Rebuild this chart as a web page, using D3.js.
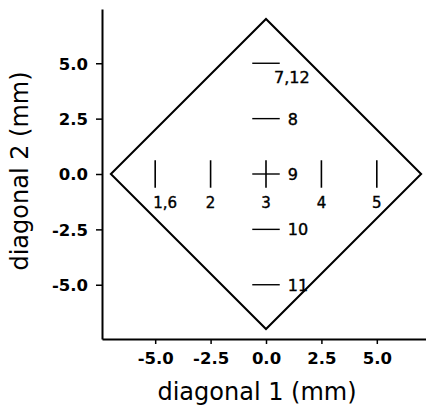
<!DOCTYPE html>
<html>
<head>
<meta charset="utf-8">
<script src="https://cdn.jsdelivr.net/npm/d3@7"></script>
<style>
  html, body { margin: 0; padding: 0; background: #fff; }
  svg { display: block; }
  text { font-family: "DejaVu Sans", Verdana, sans-serif; fill: #000; }
</style>
</head>
<body>
<svg id="chart" width="426" height="406"></svg>
<script>
// Diamond outline (vertices in mm: diagonal 1, diagonal 2)
const diamond = [[-7, 0], [0, 7], [7, 0], [0, -7]];

// Measurement sites along diagonal 1 (vertical marks at diagonal 2 = 0)
const sitesD1 = [-5, -2.5, 0, 2.5, 5];
const sitesD1Labels = ["1,6", "2", "3", "4", "5"];

// Measurement sites along diagonal 2 (horizontal marks at diagonal 1 = 0)
const sitesD2 = [5, 2.5, 0, -2.5, -5];
const sitesD2Labels = ["7,12", "8", "9", "10", "11"];

const tickValues = [-5, -2.5, 0, 2.5, 5];
const markHalf = 0.62;

const svg = d3.select("#chart");
const x = d3.scaleLinear().domain([-7.4, 7.4]).range([102, 430]);
const y = d3.scaleLinear().domain([-7.45, 7.45]).range([339, 9]);

// Tick labels use a plain hyphen for negatives
const fmt = d => d3.format(".1f")(d).replace("\u2212", "-");

// Axes
const xAxis = d3.axisBottom(x).tickValues(tickValues).tickFormat(fmt).tickSize(5).tickSizeOuter(0);
const yAxis = d3.axisLeft(y).tickValues(tickValues).tickFormat(fmt).tickSize(6).tickSizeOuter(0);

const gx = svg.append("g").attr("transform", `translate(0,${y.range()[0]})`).call(xAxis);
const gy = svg.append("g").attr("transform", `translate(${x.range()[0]},0)`).call(yAxis);

[gx, gy].forEach(g => {
  g.select(".domain").attr("stroke", "#000").attr("stroke-width", 2);
  g.selectAll(".tick line").attr("stroke", "#000").attr("stroke-width", 1.5);
  g.selectAll(".tick text")
    .attr("font-family", "DejaVu Sans, sans-serif")
    .attr("font-size", 16.5)
    .attr("font-weight", "bold")
    .attr("fill", "#000");
});
gx.selectAll(".tick text").attr("dy", "1.05em");
gy.selectAll(".tick text").attr("x", -14).attr("dy", "0.36em");

// Axis titles
svg.append("text")
  .attr("x", 257).attr("y", 400)
  .attr("text-anchor", "middle")
  .attr("font-size", 24)
  .text("diagonal 1 (mm)");

svg.append("text")
  .attr("transform", `translate(28,171) rotate(-90)`)
  .attr("text-anchor", "middle")
  .attr("font-size", 24)
  .text("diagonal 2 (mm)");

// Diamond
svg.append("path")
  .datum(diamond)
  .attr("d", d3.line().x(d => x(d[0])).y(d => y(d[1])).curve(d3.curveLinearClosed))
  .attr("fill", "none")
  .attr("stroke", "#000")
  .attr("stroke-width", 2);

// Vertical marks along diagonal 1
svg.selectAll("line.d1").data(sitesD1).join("line")
  .attr("class", "d1")
  .attr("x1", d => x(d)).attr("x2", d => x(d))
  .attr("y1", y(markHalf)).attr("y2", y(-markHalf))
  .attr("stroke", "#000").attr("stroke-width", 1.6);

// Horizontal marks along diagonal 2
svg.selectAll("line.d2").data(sitesD2).join("line")
  .attr("class", "d2")
  .attr("x1", x(-markHalf)).attr("x2", x(markHalf))
  .attr("y1", d => y(d)).attr("y2", d => y(d))
  .attr("stroke", "#000").attr("stroke-width", 1.4);

// Labels for diagonal 1 sites (below each mark; paired label starts at the mark)
svg.selectAll("text.l1").data(sitesD1).join("text")
  .attr("class", "l1")
  .attr("font-size", 15).attr("stroke", "#000").attr("stroke-width", 0.4)
  .attr("x", (d, i) => sitesD1Labels[i].includes(",") ? x(d) - 2 : x(d))
  .attr("y", y(-markHalf) + 20)
  .attr("text-anchor", (d, i) => sitesD1Labels[i].includes(",") ? "start" : "middle")
  .text((d, i) => sitesD1Labels[i]);

// Labels for diagonal 2 sites (right of each mark; paired label sits below)
svg.selectAll("text.l2").data(sitesD2).join("text")
  .attr("class", "l2")
  .attr("font-size", 16).attr("stroke", "#000").attr("stroke-width", 0.4)
  .attr("x", (d, i) => sitesD2Labels[i].includes(",") ? x(0.36) : x(markHalf) + 8)
  .attr("y", (d, i) => sitesD2Labels[i].includes(",") ? y(d) + 20 : y(d) + 6)
  .text((d, i) => sitesD2Labels[i]);
</script>
</body>
</html>
